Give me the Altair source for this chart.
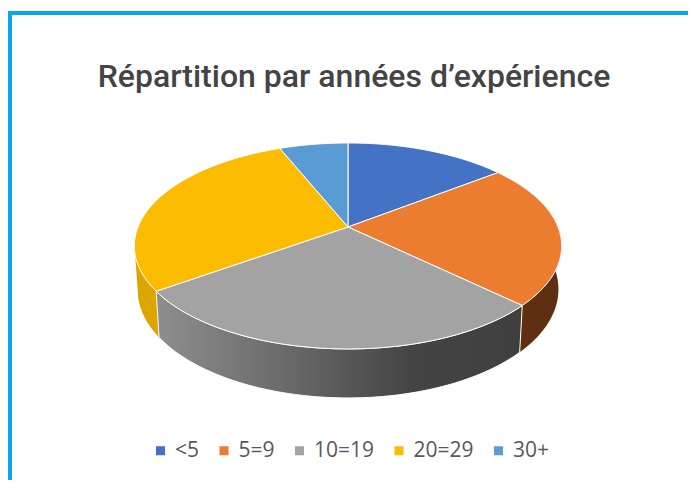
import numpy as np
import altair as alt

categories = ["<5", "5=9", "10=19", "20=29", "30+"]
values = [14.6, 22.5, 28.1, 28.6, 6.2]
colors = ["#4472c4", "#ec7c30", "#a3a3a3", "#fcbc02", "#5b9bd5"]
TITLE = "Répartition par années d’expérience"

# Perspective pie model, canvas pixels
X0, Y0, A, B, K = 340.0, 219.0, 210.0, 99.5, 0.184


def rim(theta):
    w = 1 + K * np.sin(theta)
    return X0 + A * np.cos(theta) / w, Y0 - B * np.sin(theta) / w


def low(theta):
    x, y = rim(theta)
    return X0 + (x - X0) * 0.985, y + 42 - 7 * np.sin(theta)


def arc(a, b):
    n = max(int(abs(b - a)) + 2, 3)
    return np.radians(90 - np.linspace(a, b, n))


def feature(coords, **props):
    ring = [[float(x), float(y)] for x, y in coords]
    ring.append(ring[0])
    return {"type": "Feature", "geometry": {"type": "Polygon", "coordinates": [ring]}, "properties": props}


def wall(a, b):
    t = arc(a, b)
    top = list(zip(*rim(t)))
    bot = list(zip(*low(t)))
    return feature(top + bot[::-1], name="wall")


edges = np.cumsum([0] + values) / sum(values) * 360
faces = []
for i, c in enumerate(categories):
    faces.append(feature([(X0, Y0)] + list(zip(*rim(arc(edges[i], edges[i + 1])))), category=c))

proj = alt.Projection(type="identity", scale=1, translate=[0, 0])


def wall_layer(feat, fill, stroke=None):
    kw = {"strokeWidth": 1} if stroke else {"strokeWidth": 0}
    if stroke:
        kw["stroke"] = stroke
    return alt.Chart(alt.Data(values=[feat])).mark_geoshape(fill=fill, **kw).project(**proj.to_dict())


gray_grad = alt.LinearGradient(
    gradient="linear", x1=0, x2=1, y1=0, y2=0,
    stops=[alt.GradientStop(offset=0, color="#8e8e8e"),
           alt.GradientStop(offset=0.35, color="#6a6a6a"),
           alt.GradientStop(offset=0.7, color="#444444"),
           alt.GradientStop(offset=1, color="#3f3f3f")],
)

gold_wall = wall_layer(wall(edges[3] - 10, edges[3] + 20), "#dba600")
orange_wall = wall_layer(wall(80, edges[2]), "#5e2f10")
gray_wall = wall_layer(wall(edges[2], edges[3]), gray_grad, "#ffffff")

top = (
    alt.Chart(alt.Data(values=faces))
    .mark_geoshape(stroke="#ffffff", strokeWidth=1)
    .encode(
        color=alt.Color(
            "properties.category:N",
            scale=alt.Scale(domain=categories, range=colors),
            legend=alt.Legend(
                title=None, orient="none", direction="horizontal",
                legendX=142, legendY=432, symbolType="square", symbolSize=81,
                symbolStrokeWidth=0, labelFont="Open Sans", labelFontSize=21,
                labelColor="#595959", labelOffset=4, columnPadding=13.5,
            ),
        )
    )
    .project(**proj.to_dict())
)

frame_left = alt.Chart().mark_rule(color="#0aa5ef", strokeWidth=4).encode(
    x=alt.value(2), y=alt.value(3), y2=alt.value(472))
frame_top = alt.Chart().mark_rule(color="#0aa5ef", strokeWidth=4).encode(
    y=alt.value(5), x=alt.value(0), x2=alt.value(680))

chart = (
    alt.layer(frame_left, frame_top, gold_wall, orange_wall, gray_wall, top)
    .properties(
        width=680, height=472, padding=0,
        autosize=alt.AutoSizeParams(type="none"),
        title=alt.TitleParams(
            text=TITLE, font="Roboto", fontSize=32, fontWeight=500,
            color="#444444", anchor="middle", offset=-86, dx=6,
        ),
    )
    .configure_view(stroke=None)
)

chart.save("out.html", embed_options={"renderer": "svg", "actions": False})
